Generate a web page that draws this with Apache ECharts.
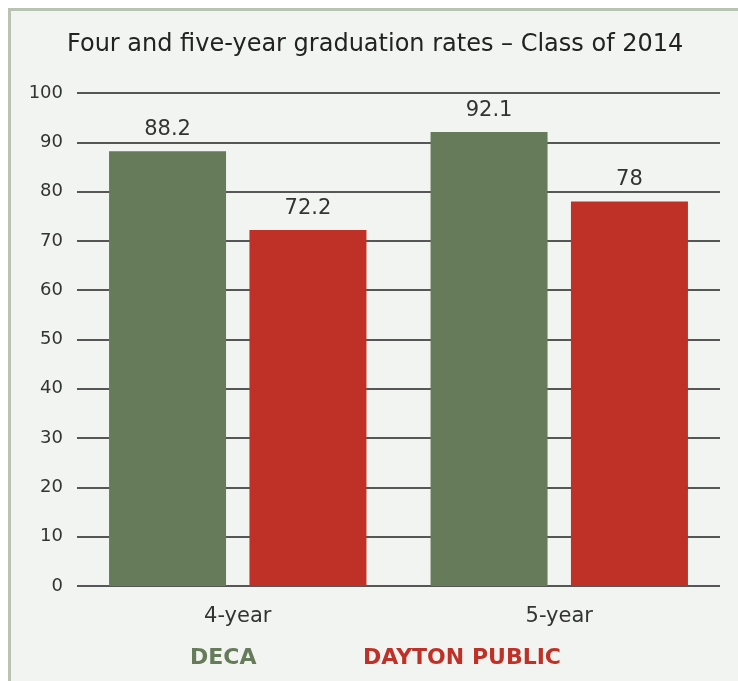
<!DOCTYPE html>
<html>
<head>
<meta charset="utf-8">
<script src="https://cdn.jsdelivr.net/npm/echarts@6/dist/echarts.min.js"></script>
<style>
  html, body { margin: 0; padding: 0; background: #ffffff; }
  #main { width: 738px; height: 681px; }
</style>
</head>
<body>
<div id="main"></div>
<script>
// 图表数据
const categories = ['4-year', '5-year'];
const decaValues = [88.2, 92.1];
const daytonValues = [72.2, 78];
const seriesNames = ['DECA', 'DAYTON PUBLIC'];

const chart = echarts.init(document.getElementById('main'));

const fontFamily = '"DejaVu Sans", "Noto Sans", sans-serif';

const option = {
  backgroundColor: '#ffffff',
  animation: false,
  color: ['#667b59', '#bf3127'],
  /* 外框和背景 */
  graphic: [
    { type: 'rect', z: -10, shape: { x: 8, y: 8, width: 730, height: 673 }, style: { fill: '#b9c3b1' } },
    { type: 'rect', z: -9, shape: { x: 11, y: 11, width: 727, height: 670 }, style: { fill: '#f2f4f1' } }
  ],
  title: {
    text: 'Four and five-year graduation rates – Class of 2014',
    left: 62,
    top: 28,
    textStyle: { fontFamily: fontFamily, fontSize: 24, fontWeight: 'normal', color: '#222' }
  },
  /* 图例分开放置 */
  legend: [
    {
      data: [{ name: seriesNames[0], textStyle: { color: '#667b59' } }],
      left: 180, top: 642, icon: 'none', itemWidth: 0, itemGap: 0,
      textStyle: { fontFamily: fontFamily, fontSize: 22, fontWeight: 'bold' },
      selectedMode: false
    },
    {
      data: [{ name: seriesNames[1], textStyle: { color: '#bf3127' } }],
      left: 353, top: 642, icon: 'none', itemWidth: 0, itemGap: 0,
      textStyle: { fontFamily: fontFamily, fontSize: 22, fontWeight: 'bold' },
      selectedMode: false
    }
  ],
  grid: { left: 77, right: 18, top: 93, bottom: 95 },
  xAxis: {
    type: 'category',
    data: categories,
    axisLine: { show: false },
    axisTick: { show: false },
    axisLabel: { margin: 20, fontFamily: fontFamily, fontSize: 21, color: '#333' }
  },
  yAxis: {
    type: 'value',
    min: 0, max: 100, interval: 10,
    axisLine: { show: false },
    axisTick: { show: false },
    axisLabel: { margin: 14, fontFamily: fontFamily, fontSize: 18, color: '#333' },
    splitLine: { lineStyle: { color: '#222', width: 1.5 } }
  },
  series: [
    {
      name: seriesNames[0],
      type: 'bar',
      data: decaValues,
      barWidth: 117,
      barGap: '20%',
      label: { show: true, position: 'top', distance: 11, fontFamily: fontFamily, fontSize: 21, color: '#333' }
    },
    {
      name: seriesNames[1],
      type: 'bar',
      data: daytonValues,
      barWidth: 117,
      barGap: '20%',
      label: { show: true, position: 'top', distance: 11, fontFamily: fontFamily, fontSize: 21, color: '#333' }
    }
  ]
};

chart.setOption(option);
</script>
</body>
</html>
